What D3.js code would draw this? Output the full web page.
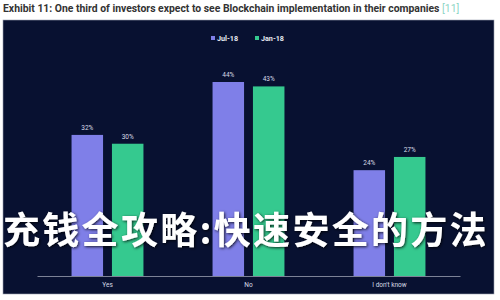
<!DOCTYPE html>
<html><head><meta charset="utf-8">
<script src="https://cdn.jsdelivr.net/npm/d3@7"></script>
<style>
html,body{margin:0;padding:0;background:#fff;}
svg{display:block;}
</style></head>
<body>
<svg id="chart" width="500" height="300"></svg>
<script>
const categories = ["Yes", "No", "I don't know"];
const seriesNames = ["Jul-18", "Jan-18"];
const jul18 = [32, 44, 24];
const jan18 = [30, 43, 27];
const titleText = "Exhibit 11: One third of investors expect to see Blockchain implementation in their companies";
const titleRef = "[11]";
const overlayText = "充钱全攻略:快速安全的方法";

const colors = {"Jul-18": "#7f7fe8", "Jan-18": "#35c98f"};
const svg = d3.select("#chart");

// title
const t = svg.append("text").attr("x", 3).attr("y", 12)
  .attr("font-family", "Roboto, Arial, sans-serif").attr("font-weight", "bold")
  .attr("font-size", 10.4).attr("fill", "#333");
t.append("tspan").text(titleText + " ");
t.append("tspan").attr("fill", "#8fd6c6").attr("font-weight", "normal").text(titleRef);

// panel
svg.append("rect").attr("x", 3).attr("y", 20).attr("width", 491).attr("height", 274)
  .attr("fill", "#081131").attr("stroke", "#9aa0b0").attr("stroke-width", 0.6);

const margin = {left: 37, right: 460, top: 20, bottom: 276};
const x0 = d3.scaleBand().domain(categories).range([margin.left, margin.right]).paddingInner(0.49).paddingOuter(0.245);
const x1 = d3.scaleBand().domain(seriesNames).range([0, x0.bandwidth()]).paddingInner(0.22).paddingOuter(0);
const y = d3.scaleLinear().domain([0, 44]).range([margin.bottom, 82]);

const data = categories.map((c, i) => ({cat: c, vals: [{s: "Jul-18", v: jul18[i]}, {s: "Jan-18", v: jan18[i]}]}));

const g = svg.append("g");
const groups = g.selectAll("g.cat").data(data).join("g")
  .attr("transform", d => `translate(${x0(d.cat)},0)`);
groups.selectAll("rect").data(d => d.vals).join("rect")
  .attr("x", d => x1(d.s)).attr("width", x1.bandwidth())
  .attr("y", d => y(d.v)).attr("height", d => y(0) - y(d.v))
  .attr("fill", d => colors[d.s]);
groups.selectAll("text").data(d => d.vals).join("text")
  .attr("x", d => x1(d.s) + x1.bandwidth() / 2).attr("y", d => y(d.v) - 5)
  .attr("text-anchor", "middle").attr("font-family", "Roboto, Arial, sans-serif")
  .attr("font-size", 6.5).attr("fill", "#d8dbe6").text(d => d.v + "%");

// axis
const axis = svg.append("g").attr("transform", `translate(0,${margin.bottom})`)
  .call(d3.axisBottom(x0).tickSize(0).tickPadding(6));
axis.select(".domain").attr("stroke", "#7c8296").attr("stroke-width", 1);
axis.selectAll("text").attr("fill", "#d8dbe6").attr("font-family", "Roboto, Arial, sans-serif").attr("font-size", 6.5);

// legend
const legend = svg.append("g").attr("transform", "translate(211,39)");
const li = legend.selectAll("g").data(seriesNames).join("g")
  .attr("transform", (d, i) => `translate(${i * 44},0)`);
li.append("rect").attr("x", 0).attr("y", -3).attr("width", 4).attr("height", 4).attr("fill", d => colors[d]);
li.append("text").attr("x", 6).attr("y", 1.5).attr("font-family", "Roboto, Arial, sans-serif")
  .attr("font-weight", "bold").attr("font-size", 7.2).attr("fill", "#e8eaf2").text(d => d);

// overlay text
const defs = svg.append("defs");
const f = defs.append("filter").attr("id", "sh").attr("x", "-10%").attr("y", "-30%").attr("width", "120%").attr("height", "160%");
f.append("feGaussianBlur").attr("in", "SourceAlpha").attr("stdDeviation", 1.5).attr("result", "b");
f.append("feOffset").attr("in", "b").attr("dx", 1).attr("dy", 1).attr("result", "o");
f.append("feFlood").attr("flood-color", "#000").attr("flood-opacity", 0.8);
f.append("feComposite").attr("in2", "o").attr("operator", "in");
const m = f.append("feMerge");
m.append("feMergeNode");
m.append("feMergeNode").attr("in", "SourceGraphic");
svg.append("text").attr("x", 3).attr("y", 244)
  .attr("font-family", "'Noto Sans CJK SC', sans-serif").attr("font-weight", "700")
  .attr("font-size", 37).attr("fill", "#ffffff").attr("letter-spacing", 2.3)
  .attr("filter", "url(#sh)").text(overlayText);
</script>
</body></html>
